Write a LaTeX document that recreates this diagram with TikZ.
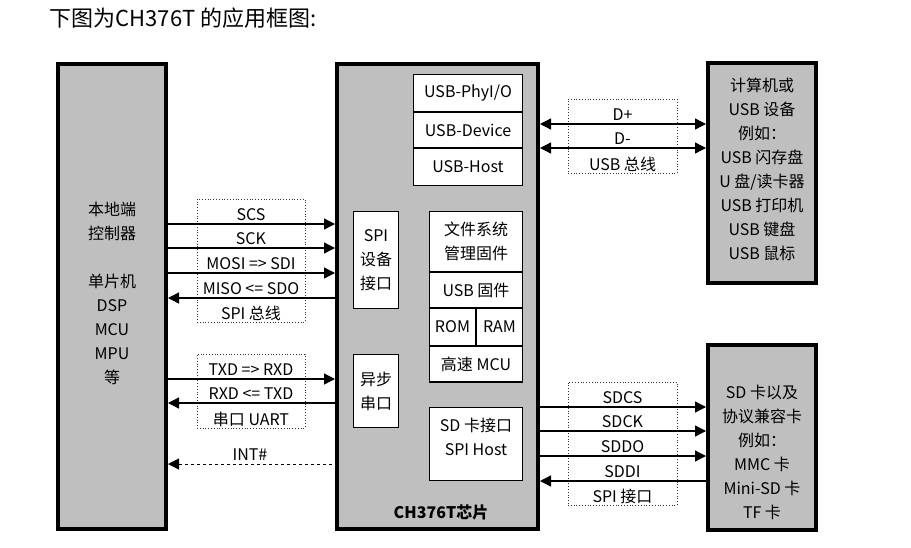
\documentclass[tikz,border=0pt]{standalone}
\usepackage{fontspec}
\setmainfont{Noto Sans CJK SC}
\usetikzlibrary{positioning}
\usetikzlibrary{arrows.meta}
\tikzstyle{block}=[draw=black,line width=4pt,fill=black!25,inner sep=0pt]
\tikzstyle{inbox}=[draw=black,line width=1.3pt,fill=white,inner sep=0pt,align=center]
\tikzstyle{busbox}=[draw=black!80,dotted,line width=0.8pt,inner sep=0pt]
\tikzstyle{sigline}=[draw,line width=1.3pt]
\tikzstyle{sig}=[anchor=south,inner xsep=2pt,inner ysep=1.5pt,text depth=2pt]

\begin{document}
\begin{tikzpicture}[x=1pt,y=-1pt,>={Triangle[length=11pt,width=11pt]},font=\fontsize{16}{24}\selectfont]
    \useasboundingbox (0,0) rectangle (911,547);

    \node[anchor=west,font=\fontsize{22}{26}\selectfont] (title) at (46,18) {下图为CH376T 的应用框图:};

    % big blocks
    \node[block,minimum width=108pt,minimum height=465pt] (host) at (112,296.5) {};
    \node[block,minimum width=201pt,minimum height=465pt] (chip) at (437.5,296.5) {};
    \node[block,minimum width=108pt,minimum height=220pt] (pc) at (762,173) {};
    \node[block,minimum width=108pt,minimum height=185pt] (sd) at (762,437.5) {};

    \node[align=center] (hosttxt) at (112,293) {本地端\\控制器\\[24pt]单片机\\DSP\\MCU\\MPU\\等};
    \node[align=center] (pctxt) at (762,169) {计算机或\\USB 设备\\例如：\\USB 闪存盘\\U 盘/读卡器\\USB 打印机\\USB 键盘\\USB 鼠标};
    \node[align=center] (sdtxt) at (762,452.5) {SD 卡以及\\协议兼容卡\\例如：\\MMC 卡\\Mini-SD 卡\\TF 卡};
    \node[font=\bfseries\fontsize{16}{20}\selectfont] (chipname) at (441,512) {CH376T芯片};

    % boxes inside the chip
    \foreach \pos/\name/\w/\h/\label in {{(468,93)/phy/109/37/{USB-PhyI/O}}, {(468,130)/dev/109/36/USB-Device}, {(468,167)/hst/109/37/USB-Host},
        {(376,260)/spidev/45/97/{SPI\\设备\\接口}}, {(376,391)/uart/45/73/{异步\\串口}},
        {(476,241.5)/fs/93/60/{文件系统\\管理固件}}, {(476,290)/fw/93/36/USB 固件}, {(452.5,327)/rom/46.5/38/ROM}, {(499.5,327)/ram/46.5/38/RAM},
        {(476,364)/mcu/93/36/高速 MCU}}
        \node[inbox,minimum width=\w pt,minimum height=\h pt] (\name) at \pos {\label};

    \node[inbox,minimum width=93pt,minimum height=73pt] (sdif) at (476,444) {};
    \node[align=center,anchor=north,yshift=-8pt] (sdiftxt) at (sdif.north) {SD 卡接口\\SPI Host};

    % dotted bus frames
    \foreach \pos/\name/\w/\h/\label in {{(251,260.5)/spibus/108/123/SPI 总线}, {(251,391)/uartbus/108/74/串口 UART},
        {(622.5,136)/usbbus/109/74/USB 总线}, {(622.5,443.5)/sdbus/109/123/SPI 接口}}
    {
        \node[busbox,minimum width=\w pt,minimum height=\h pt] (\name) at \pos {};
        \node[anchor=south,inner sep=1.5pt] (\name txt) at (\name.south) {\label};
    }

    % signals into the chip
    \foreach \pos/\name/\label in {{(251,224)/scs/SCS}, {(251,248)/sck/SCK}, {(251,273)/mosi/MOSI => SDI}, {(251,379)/txd/TXD => RXD}}
    {
        \node[sig] (\name) at \pos {\label};
        \path[sigline,->] (host.east |- \name.south) -- (chip.west |- \name.south);
    }

    \foreach \pos/\name/\label in {{(251,298)/miso/MISO <= SDO}, {(251,403)/rxd/RXD <= TXD}}
    {
        \node[sig] (\name) at \pos {\label};
        \path[sigline,<-] (host.east |- \name.south) -- (chip.west |- \name.south);
    }

    \node[sig] (int) at (250,464) {INT\#};
    \path[sigline,dashed,line width=1pt,<-] (host.east |- int.south) -- (chip.west |- int.south);

    \foreach \pos/\name/\label in {{(622.5,124)/dp/D+}, {(622.5,148)/dm/D-}}
    {
        \node[sig] (\name) at \pos {\label};
        \path[sigline,<->] (chip.east |- \name.south) -- (pc.west |- \name.south);
    }

    \foreach \pos/\name/\label in {{(622.5,407)/sdcs/SDCS}, {(622.5,431)/sdck/SDCK}, {(622.5,456)/sddo/SDDO}}
    {
        \node[sig] (\name) at \pos {\label};
        \path[sigline,->] (chip.east |- \name.south) -- (sd.west |- \name.south);
    }

    \node[sig] (sddi) at (622.5,481) {SDDI};
    \path[sigline,<-] (chip.east |- sddi.south) -- (sd.west |- sddi.south);
\end{tikzpicture}
\end{document}
